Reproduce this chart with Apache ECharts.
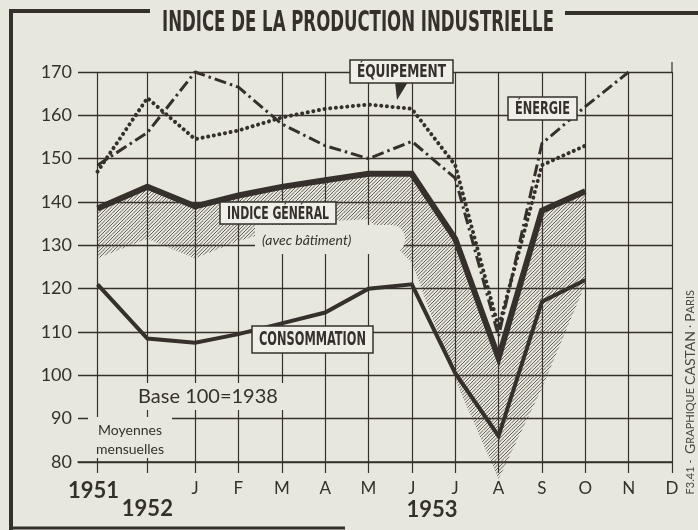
<!DOCTYPE html>
<html>
<head>
<meta charset="utf-8">
<title>Indice de la production industrielle</title>
<script src="https://cdn.jsdelivr.net/npm/echarts@6/dist/echarts.min.js"></script>
<style>
  html, body { margin: 0; padding: 0; background: #e8e7de; }
  #chart { width: 698px; height: 530px; }
</style>
</head>
<body>
<div id="chart"></div>
<script>
// abscisses : moyennes 1951, 1952 puis les mois de 1953
var categories = ['1951', '1952', 'J', 'F', 'M', 'A', 'M', 'J', 'J', 'A', 'S', 'O', 'N', 'D'];
var xSlots = [-2.25, -1.1, 0, 1, 2, 3, 4, 5, 6, 7, 8, 9, 10, 11];
var yMin = 80, yMax = 170, yStep = 10;

// valeurs (base 100 = 1938)
var indiceGeneral  = [138.5, 143.5, 139, 141.5, 143.5, 145, 146.5, 146.5, 131.5, 104, 138, 142.5];
var indiceBatiment = [127, 131.5, 127, 131, 134, 135.5, 136, 126, 99, 76, 97, 121];
var equipement     = [147, 164, 154.5, 156.5, 159.5, 161.5, 162.5, 161.5, 148.5, 111, 148.5, 153];
var energie        = [148.5, 156, 170, 166.5, 158, 153, 150, 154, 145.5, 109, 153.5, 162, 170];
var consommation   = [121, 108.5, 107.5, 109.5, 112, 114.5, 120, 121, 100.5, 86, 117, 122];

var ink = '#35302b';
var paper = '#e8e7de';
var boxFill = '#efeee7';
var condensed = '"DejaVu Sans Condensed", "Liberation Sans Narrow", "DejaVu Sans", sans-serif';
var round = 'Lato, "Noto Sans", sans-serif';

function pts(arr) {
  return arr.map(function (v, i) { return [xSlots[i], v]; });
}

function slotIndex(v) {
  for (var i = 0; i < xSlots.length; i++) {
    if (Math.abs(xSlots[i] - v) < 1e-6) return i;
  }
  return -1;
}

// motif de hachures ////
function hatch() {
  var c = document.createElement('canvas');
  c.width = 7; c.height = 7;
  var g = c.getContext('2d');
  g.strokeStyle = '#4a453f';
  g.lineWidth = 0.85;
  g.beginPath();
  [0, 3.5, 7, 10.5, 14].forEach(function (s) {
    g.moveTo(s, 0); g.lineTo(0, s);
  });
  g.stroke();
  return c;
}
var hatchCanvas = hatch();

// largeur du texte pour le comprimer comme le lettrage d'origine
function fitScale(text, font, width) {
  var ctx = document.createElement('canvas').getContext('2d');
  ctx.font = font;
  return width / ctx.measureText(text).width;
}

function txt(x, y, text, font, opts) {
  opts = opts || {};
  return {
    type: 'text', x: x, y: y, z: opts.z || 102,
    scaleX: opts.scaleX || 1, rotation: opts.rotation || 0,
    style: {
      text: text, font: font, fill: opts.fill || ink,
      align: opts.align || 'center', verticalAlign: opts.valign || 'middle',
      textAlign: opts.align || 'center', textVerticalAlign: opts.valign || 'middle',
      rich: opts.rich
    }
  };
}

// étiquette encadrée
function box(x0, y0, x1, y1, text, size) {
  var font = 'bold ' + size + 'px ' + condensed;
  var s = fitScale(text, font, (x1 - x0) - 14);
  return [
    { type: 'rect', z: 100, shape: { x: x0, y: y0, width: x1 - x0, height: y1 - y0 },
      style: { fill: boxFill, stroke: ink, lineWidth: 1.5 } },
    txt((x0 + x1) / 2, (y0 + y1) / 2 + 1, text, font, { scaleX: s })
  ];
}

function line(x0, y0, x1, y1, w) {
  return { type: 'line', z: 100, shape: { x1: x0, y1: y0, x2: x1, y2: y1 },
    style: { stroke: ink, lineWidth: w } };
}

// bande hachurée entre l'indice général et l'indice avec bâtiment
function renderBand(params, api) {
  var top = indiceGeneral.map(function (v, i) { return api.coord([xSlots[i], v]); });
  var bottom = indiceBatiment.map(function (v, i) { return api.coord([xSlots[i], v]); }).reverse();
  return {
    type: 'polygon',
    shape: { points: top.concat(bottom) },
    style: { fill: { image: hatchCanvas, repeat: 'repeat' } }
  };
}

function getOption() {
  var titleFont = 'bold 28px ' + condensed;
  var title = 'INDICE DE LA PRODUCTION INDUSTRIELLE';
  var graphics = [
    // cadre
    line(11, 11, 11, 530, 4),
    line(9, 11, 150, 11, 4),
    line(565, 13, 698, 13, 4),
    line(9, 528, 345, 528, 3),
    line(672, 62, 672, 72, 1.2),
    txt(358, 24, title, titleFont, { scaleX: fitScale(title, titleFont, 392) }),
    // fonds qui masquent la grille
    { type: 'rect', z: 99, shape: { x: 255, y: 225, width: 150, height: 29, r: [0, 14, 14, 0] },
      style: { fill: paper } },
    txt(262, 240, '(avec bâtiment)', 'italic 14px ' + round, { align: 'left' }),
    { type: 'rect', z: 99, shape: { x: 132, y: 383, width: 156, height: 27 }, style: { fill: paper } },
    txt(208, 397, 'Base 100=1938', '20px ' + round),
    { type: 'rect', z: 99, shape: { x: 88, y: 417, width: 84, height: 41 }, style: { fill: paper } },
    txt(130, 430, 'Moyennes', '14px ' + round),
    txt(130, 449, 'mensuelles', '14px ' + round),
    txt(432, 510, '1953', 'bold 22px ' + round),
    { type: 'polygon', z: 100, shape: { points: [[395, 82], [408, 82], [397, 100]] },
      style: { fill: ink } },
    txt(690, 290, '{s|F3.41 -  }{c|G}{s|RAPHIQUE} {c|CASTAN} · {c|P}{s|ARIS}', '12px ' + round, {
      align: 'right', rotation: Math.PI / 2, fill: '#4a453f',
      rich: { c: { fontSize: 14, fontFamily: 'Lato', fill: '#4a453f' },
              s: { fontSize: 11, fontFamily: 'Lato', fill: '#4a453f' } }
    })
  ];
  graphics = graphics
    .concat(box(350, 60, 453, 83, 'ÉQUIPEMENT', 18))
    .concat(box(508, 97, 577, 120, 'ÉNERGIE', 18))
    .concat(box(220, 202, 336, 224, 'INDICE GÉNÉRAL', 18))
    .concat(box(252, 326, 373, 353, 'CONSOMMATION', 19));

  return {
    backgroundColor: paper,
    animation: false,
    grid: { left: 78, right: 26, top: 72, bottom: 68 },
    xAxis: {
      type: 'value',
      min: -2.7,
      max: 11,
      axisLine: { show: true, lineStyle: { color: ink, width: 1.5 } },
      axisTick: { show: true, customValues: xSlots, length: 11, lineStyle: { color: ink, width: 1.2 } },
      splitLine: { show: true, lineStyle: { color: ink, width: 1.2 } },
      axisLabel: {
        customValues: xSlots,
        margin: 18,
        color: ink,
        fontFamily: round,
        fontSize: 17,
        formatter: function (v) {
          var i = slotIndex(v);
          if (i === 0) return '{y|' + categories[i] + '}';
          if (i === 1) return '{y2|' + categories[i] + '}';
          return categories[i];
        },
        rich: {
          y: { fontSize: 22, fontWeight: 'bold', fontFamily: round, color: ink, padding: [0, 8, 0, 0] },
          y2: { fontSize: 22, fontWeight: 'bold', fontFamily: round, color: ink, padding: [18, 0, 0, 0] }
        }
      }
    },
    yAxis: {
      type: 'value',
      min: yMin,
      max: yMax,
      interval: yStep,
      axisLine: { show: false },
      axisTick: { show: false },
      axisLabel: { color: ink, fontFamily: round, fontSize: 18, margin: 6 },
      splitLine: { show: true, lineStyle: { color: ink, width: 1.3 } }
    },
    series: [
      {
        name: 'bande', type: 'custom', data: [0], renderItem: renderBand,
        silent: true, clip: false, z: 1
      },
      {
        name: 'Consommation', type: 'line', data: pts(consommation), symbol: 'none', clip: false,
        lineStyle: { color: ink, width: 4, join: 'miter' }, z: 3
      },
      {
        name: 'Indice général', type: 'line', data: pts(indiceGeneral), symbol: 'none', clip: false,
        lineStyle: { color: ink, width: 6, join: 'miter' }, z: 4
      },
      {
        name: 'Équipement', type: 'line', data: pts(equipement), symbol: 'none', clip: false,
        lineStyle: { color: ink, width: 4, type: [0.1, 5.6], cap: 'round' }, z: 5
      },
      {
        name: 'Énergie', type: 'line', data: pts(energie), symbol: 'none', clip: false,
        lineStyle: { color: ink, width: 3, type: [12, 4, 2.5, 4] }, z: 5
      }
    ],
    graphic: { elements: graphics }
  };
}

var myChart = echarts.init(document.getElementById('chart'));
myChart.setOption(getOption());
</script>
</body>
</html>
